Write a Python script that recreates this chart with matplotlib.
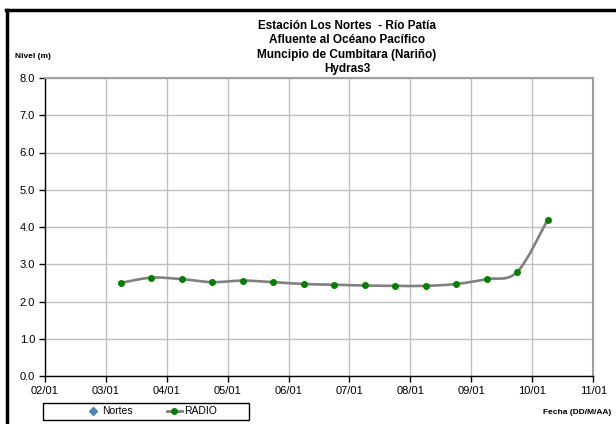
import matplotlib
matplotlib.use('Agg')
from matplotlib import pyplot as plt
from matplotlib.path import Path
from matplotlib.patches import PathPatch, Rectangle
from matplotlib.lines import Line2D
import numpy as np

plt.rcParams['font.family'] = ['Liberation Sans', 'DejaVu Sans']

# dias (enero), una lectura cada 12 h
dias = [3.25, 3.75, 4.25, 4.75, 5.25, 5.75, 6.25, 6.75, 7.25, 7.75,
        8.25, 8.75, 9.25, 9.75, 10.25]
radio = [2.50, 2.64, 2.60, 2.52, 2.56, 2.52, 2.47, 2.45, 2.43, 2.42,
         2.42, 2.47, 2.60, 2.79, 4.19]
xticks = [2, 3, 4, 5, 6, 7, 8, 9, 10, 11]
xlabels = ['02/01', '03/01', '04/01', '05/01', '06/01', '07/01', '08/01',
           '09/01', '10/01', '11/01']
yticks = [0, 1, 2, 3, 4, 5, 6, 7, 8]
titulo = ['Estación Los Nortes  - Río Patía', 'Afluente al Océano Pacífico',
          'Muncipio de Cumbitara (Nariño)', 'Hydras3']

W, H = 616, 424
fig = plt.figure(figsize=(W/100, H/100), dpi=100)
ax = fig.add_axes([44.7/W, 1-376/H, (593.3-44.7)/W, (376-78)/H])

# curva suavizada tipo Excel (bezier)
p = np.column_stack([dias, radio])
n = len(p)
verts = [p[0]]
codes = [Path.MOVETO]
for i in range(n-1):
    p0 = p[i-1] if i > 0 else p[i]
    p3 = p[i+2] if i+2 < n else p[i+1]
    c1 = p[i] + (p[i+1]-p0)/6
    c2 = p[i+1] - (p3-p[i])/6
    verts += [c1, c2, p[i+1]]
    codes += [Path.CURVE4]*3
ax.add_patch(PathPatch(Path(verts, codes), fill=False, edgecolor='#808080', lw=1.9, zorder=3))
ax.plot(dias, radio, 'o', color='#008000', ms=4, zorder=4)

ax.set_xlim(2, 11)
ax.set_ylim(0, 8)
ax.set_xticks(xticks)
ax.set_xticklabels(xlabels)
ax.set_yticks(yticks)
ax.set_yticklabels(['%.1f' % v for v in yticks])
ax.grid(True, color='#c0c0c0', lw=1)
ax.set_axisbelow(True)
ax.tick_params(direction='out', length=4, width=1, labelsize=8, colors='black', pad=3)
for s in ['left', 'bottom']:
    ax.spines[s].set_color('black')
    ax.spines[s].set_linewidth(1)
for s in ['top', 'right']:
    ax.spines[s].set_color('#a0a0a0')
    ax.spines[s].set_linewidth(1.5)

fig.text(347/W, 1-47.5/H, '\n'.join(titulo), ha='center', va='center',
         fontsize=8.5, fontweight='bold', linespacing=1.25)
fig.text(15/W, 1-56/H, 'Nivel (m)', ha='left', va='center', fontsize=6, fontweight='bold')
fig.text(611/W, 1-413/H, 'Fecha (DD/M/AA)', ha='right', va='center', fontsize=6, fontweight='bold')

# leyenda
fig.add_artist(Rectangle((43/W, 1-420/H), 206/W, 17/H, transform=fig.transFigure,
                         fill=False, edgecolor='black', lw=1))
handles = [Line2D([], [], marker='D', color='#4f81bd', ls='none', ms=4),
           Line2D([], [], marker='o', color='#808080', mfc='#008000', mec='#008000', lw=2, ms=4)]
fig.legend(handles, ['Nortes', 'RADIO'], ncol=2, loc='center',
           bbox_to_anchor=(151/W, 1-411.5/H), frameon=False, fontsize=7.5,
           handlelength=1.5, handletextpad=0.15, columnspacing=3.2, borderpad=0)

# marco del grafico
fig.add_artist(Line2D([6.5/W, 6.5/W], [0, 1-10/H], color='black', lw=2.5))
fig.add_artist(Line2D([5.5/W, 1], [1-10/H, 1-10/H], color='black', lw=2.5))

plt.savefig('out.png', dpi=100)
